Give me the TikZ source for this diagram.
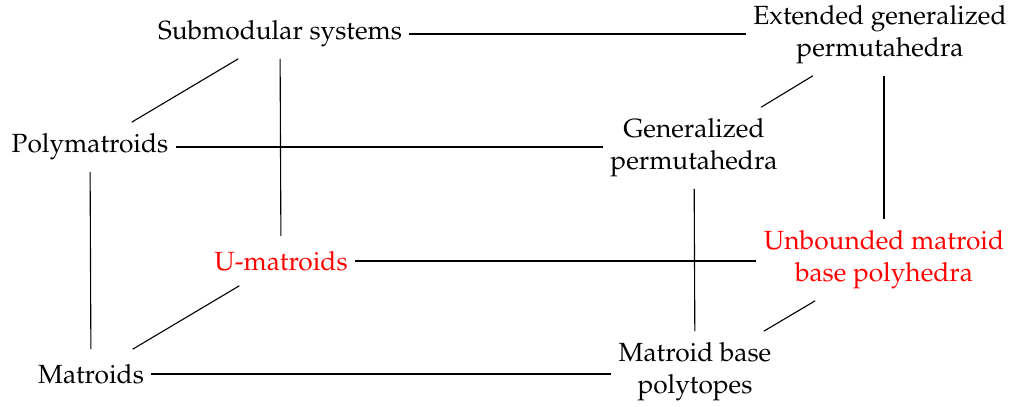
\documentclass[tikz,border=0pt]{standalone}
\usepackage[T1]{fontenc}
\usepackage{mathpazo}
\begin{document}
\begin{tikzpicture}[x=0.0127cm,y=-0.0127cm,
  box/.style={inner xsep=2.5pt,inner ysep=4pt,align=center,font=\fontsize{9.5}{11.5}\selectfont},
  hl/.style={box,text=red},
  tall/.style={minimum height=17.5pt},
  link/.style={line width=0.4pt}]
\useasboundingbox (0,0) rectangle (1013,406);
\node[box] (S) at (280,34) {Submodular systems};
\node[box] (E) at (880,35) {Extended generalized\\permutahedra};
\node[box] (P) at (90,147) {Polymatroids};
\node[box] (G) at (694,148) {Generalized\\permutahedra};
\node[hl,tall] (U) at (281,261) {U-matroids};
\node[hl] (B) at (884,260) {Unbounded matroid\\base polyhedra};
\node[box,tall] (M) at (91,374) {Matroids};
\node[box] (T) at (695,372) {Matroid base\\polytopes};
\draw[link] (S.east) -- (S.east -| E.west);
\draw[link] (S) -- (P);
\draw[link] (S) -- (U);
\draw[link] (E) -- (G);
\draw[link] (B.north |- E.south) -- (B.north);
\draw[link] (P.east) -- (P.east -| G.west);
\draw[link] (P) -- (M);
\draw[link] (G) -- (T);
\draw[link] (U.east) -- (U.east -| B.west);
\draw[link] (U) -- (M);
\draw[link] (B) -- (T);
\draw[link] (M.east) -- (M.east -| T.west);
\end{tikzpicture}
\end{document}
